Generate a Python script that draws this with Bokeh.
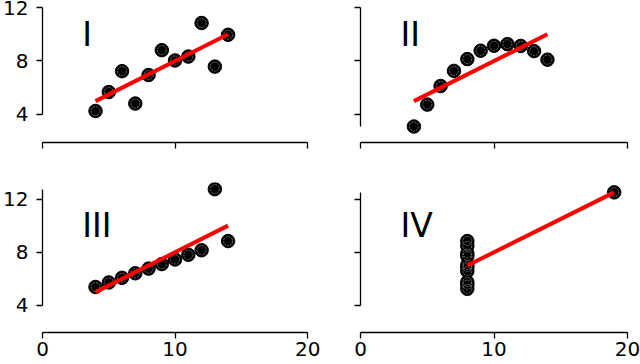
import numpy as np
from bokeh.plotting import figure
from bokeh.layouts import gridplot
from bokeh.models import FixedTicker, Range1d, ColumnDataSource
from bokeh.core.properties import value
from bokeh.embed import file_html
from bokeh.resources import INLINE

# Anscombe's quartet
x123 = [10, 8, 13, 9, 11, 14, 6, 4, 12, 7, 5]
y1 = [8.04, 6.95, 7.58, 8.81, 8.33, 9.96, 7.24, 4.26, 10.84, 4.82, 5.68]
y2 = [9.14, 8.14, 8.74, 8.77, 9.26, 8.10, 6.13, 3.10, 9.13, 7.26, 4.74]
y3 = [7.46, 6.77, 12.74, 7.11, 7.81, 8.84, 6.08, 5.39, 8.15, 6.42, 5.73]
x4 = [8, 8, 8, 8, 8, 8, 8, 19, 8, 8, 8]
y4 = [6.58, 5.76, 7.71, 8.84, 8.47, 7.04, 5.25, 12.50, 5.56, 7.91, 6.89]
panel_labels = ["I", "II", "III", "IV"]
x_ticks = [0, 10, 20]
y_ticks = [4, 8, 12]

FONT = "DejaVu Sans"


def panel(x, y, label, row, col):
    if row == 0:
        yr = (1.906, 12.523)
        mb = 40
    else:
        yr = (1.970, 13.240)
        mb = 32
    p = figure(width=320, height=182, x_range=Range1d(0, 20.97), y_range=Range1d(*yr),
               output_backend="svg", toolbar_location=None,
               min_border_left=40, min_border_right=0, min_border_top=0, min_border_bottom=mb)
    p.outline_line_color = None
    p.grid.visible = False
    p.background_fill_color = "white"
    p.border_fill_color = "white"

    xa = p.xaxis[0]
    xa.ticker = FixedTicker(ticks=x_ticks, minor_ticks=[])
    xa.bounds = (0, 20)
    ya = p.yaxis[0]
    ya.ticker = FixedTicker(ticks=y_ticks, minor_ticks=[])
    ya.bounds = (min(min(y), y_ticks[0]), max(max(y), y_ticks[-1]))
    for ax in (xa, ya):
        ax.axis_line_color = "black"
        ax.axis_line_width = 1.3
        ax.major_tick_line_color = "black"
        ax.major_tick_line_width = 1.3
        ax.major_tick_in = 0
        ax.major_tick_out = 6
        ax.minor_tick_line_color = None
        ax.major_label_text_font = FONT
        ax.major_label_text_font_size = "20px"
        ax.major_label_text_color = "black"
    xa.major_label_standoff = 3
    ya.major_label_standoff = 8
    if row == 0:
        xa.major_label_overrides = {t: "" for t in x_ticks}
    if col == 1:
        ya.major_label_overrides = {t: "" for t in y_ticks}

    src = ColumnDataSource(dict(x=x, y=y))
    p.scatter("x", "y", source=src, size=13.5, fill_color="black", line_color="black", line_width=1)
    p.scatter("x", "y", source=src, size=9, fill_color=None, line_color="#9a9a9a",
              line_width=0.7, line_dash="2 1")

    fit = np.polyfit(x, y, 1)
    xs = [min(x), max(x)]
    ys = list(np.polyval(fit, xs))
    p.line(xs, ys, line_color="red", line_width=4)

    p.text(x=[3], y=[10], text=[label], text_font=value(FONT), text_font_size="33px",
           text_baseline="alphabetic", text_align="left", text_color="black")
    return p


p1 = panel(x123, y1, panel_labels[0], 0, 0)
p2 = panel(x123, y2, panel_labels[1], 0, 1)
p3 = panel(x123, y3, panel_labels[2], 1, 0)
p4 = panel(x4, y4, panel_labels[3], 1, 1)

grid = gridplot([[p1, p2], [p3, p4]], toolbar_location=None)

open("out.html", "w").write(file_html(grid, INLINE))
